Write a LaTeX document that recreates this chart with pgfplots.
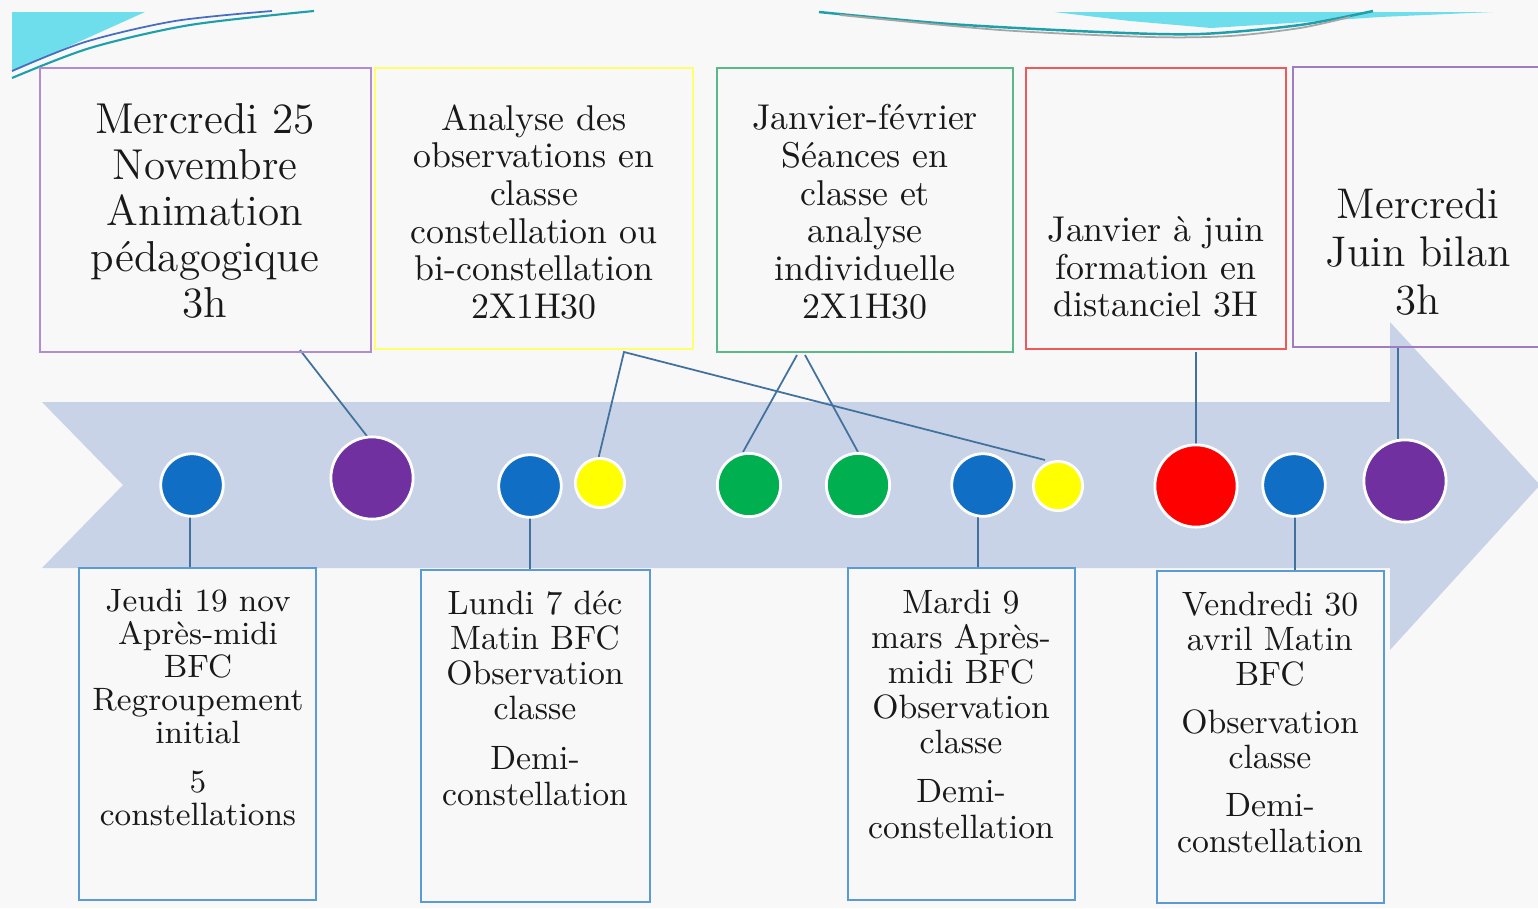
\documentclass[border=0pt]{standalone}
\usepackage{pgfplots}
\pgfplotsset{compat=1.18}
\definecolor{bg}{RGB}{248,248,248}
\definecolor{arrowc}{RGB}{201,211,232}
\definecolor{cblue}{RGB}{16,110,196}
\definecolor{cpurple}{RGB}{112,48,160}
\definecolor{cyellow}{RGB}{255,255,0}
\definecolor{cgreen}{RGB}{0,176,80}
\definecolor{cred}{RGB}{255,0,0}
\definecolor{conn}{RGB}{65,113,156}
\definecolor{bbox}{RGB}{91,155,213}
\definecolor{tpurple}{RGB}{176,140,210}
\definecolor{tyellow}{RGB}{255,255,110}
\definecolor{tgreen}{RGB}{90,185,135}
\definecolor{tred}{RGB}{238,90,90}
\definecolor{tpurple2}{RGB}{160,125,195}
\definecolor{cyanL}{RGB}{110,222,236}
\definecolor{tealL}{RGB}{30,160,170}
\definecolor{blueL}{RGB}{70,110,190}
\definecolor{txt}{RGB}{25,25,25}
\begin{document}
\begin{tikzpicture}
\begin{axis}[
  width=15.38cm, height=9.08cm, scale only axis,
  xmin=0, xmax=1538, ymin=0, ymax=908, y dir=reverse,
  hide axis, clip=true,
]
% background
\addplot[fill=bg, draw=none] coordinates {(0,0) (1538,0) (1538,908) (0,908)} -- cycle;
% top-left decoration
\addplot[fill=cyanL, draw=none] coordinates {(12,12) (145,12) (12,72)} -- cycle;
\addplot[smooth, draw=tealL, line width=0.6pt] coordinates {(12,78) (90,48) (190,25) (314,11)};
\addplot[smooth, draw=blueL, line width=0.5pt] coordinates {(12,71) (85,42) (175,21) (272,11)};
% top-right decoration
\addplot[fill=cyanL, draw=none] coordinates {(1054,12) (1493,12) (1380,17) (1290,23) (1211,28) (1130,21)} -- cycle;
\addplot[smooth, draw=tealL, line width=0.7pt] coordinates {(819,12) (950,24) (1100,32) (1200,34) (1300,25) (1373,11)};
\addplot[smooth, draw=gray!70, line width=0.5pt] coordinates {(840,15) (1000,30) (1150,37) (1230,36) (1300,28) (1350,17)};
% arrow
\addplot[fill=arrowc, draw=none] coordinates {(42,402) (1390,402) (1390,322) (1540,485) (1390,650) (1390,568) (42,568) (123,485)} -- cycle;
% connectors
\addplot[draw=conn, line width=0.5pt] coordinates {(300,350) (370,440)};
\addplot[draw=conn, line width=0.5pt] coordinates {(598,460) (624,352) (1045,460)};
\addplot[draw=conn, line width=0.5pt] coordinates {(743,452) (797,355)};
\addplot[draw=conn, line width=0.5pt] coordinates {(805,355) (858,452)};
\addplot[draw=conn, line width=0.5pt] coordinates {(1196,352) (1196,446)};
\addplot[draw=conn, line width=0.5pt] coordinates {(1398,348) (1398,442)};
\addplot[draw=conn, line width=0.5pt] coordinates {(190,515) (190,568)};
\addplot[draw=conn, line width=0.5pt] coordinates {(530,515) (530,570)};
\addplot[draw=conn, line width=0.5pt] coordinates {(978,515) (978,568)};
\addplot[draw=conn, line width=0.5pt] coordinates {(1295,515) (1295,571)};
% circles
\addplot[only marks, mark=*, mark size=8.9pt, mark options={fill=cblue, draw=white, line width=0.8pt}] coordinates {(192,485) (530,486) (983,485) (1294,485)};
\addplot[only marks, mark=*, mark size=11.7pt, mark options={fill=cpurple, draw=white, line width=0.8pt}] coordinates {(372,478) (1405,481)};
\addplot[only marks, mark=*, mark size=7.0pt, mark options={fill=cyellow, draw=white, line width=0.8pt}] coordinates {(600,483) (1058,486)};
\addplot[only marks, mark=*, mark size=9.0pt, mark options={fill=cgreen, draw=white, line width=0.8pt}] coordinates {(749,485) (858,485)};
\addplot[only marks, mark=*, mark size=11.7pt, mark options={fill=cred, draw=white, line width=0.8pt}] coordinates {(1196,486)};
% top boxes
\addplot[draw=tpurple, line width=0.6pt] coordinates {(40,68) (371,68) (371,352) (40,352)} -- cycle;
\addplot[draw=tyellow, line width=0.6pt] coordinates {(375,68) (693,68) (693,349) (375,349)} -- cycle;
\addplot[draw=tgreen, line width=0.6pt] coordinates {(717,68) (1013,68) (1013,352) (717,352)} -- cycle;
\addplot[draw=tred, line width=0.6pt] coordinates {(1026,68) (1286,68) (1286,349) (1026,349)} -- cycle;
\addplot[draw=tpurple2, line width=0.6pt] coordinates {(1293,67) (1560,67) (1560,347) (1293,347)} -- cycle;
% bottom boxes
\addplot[draw=bbox, line width=0.6pt] coordinates {(79,568) (316,568) (316,900) (79,900)} -- cycle;
\addplot[draw=bbox, line width=0.6pt] coordinates {(421,570) (650,570) (650,902) (421,902)} -- cycle;
\addplot[draw=bbox, line width=0.6pt] coordinates {(848,568) (1075,568) (1075,900) (848,900)} -- cycle;
\addplot[draw=bbox, line width=0.6pt] coordinates {(1157,571) (1384,571) (1384,903) (1157,903)} -- cycle;
% top texts
\node[align=center, anchor=north, inner sep=0pt, text=txt, font=\fontsize{12.3}{13.1}\selectfont] at (axis cs:205,103) {Mercredi 25\\Novembre\\Animation\\pédagogique\\3h};
\node[align=center, anchor=north, inner sep=0pt, text=txt, font=\fontsize{10.2}{10.7}\selectfont] at (axis cs:534,104) {Analyse des\\observations en\\classe\\constellation ou\\bi-constellation\\2X1H30};
\node[align=center, anchor=north, inner sep=0pt, text=txt, font=\fontsize{10.2}{10.7}\selectfont] at (axis cs:865,104) {Janvier-février\\Séances en\\classe et\\analyse\\individuelle\\2X1H30};
\node[align=center, anchor=north, inner sep=0pt, text=txt, font=\fontsize{10.2}{10.7}\selectfont] at (axis cs:1156,216) {Janvier à juin\\formation en\\distanciel 3H};
\node[align=center, anchor=north, inner sep=0pt, text=txt, font=\fontsize{12.2}{13.6}\selectfont] at (axis cs:1418,188) {Mercredi\\Juin bilan\\3h};
% bottom texts
\node[align=center, anchor=north, inner sep=0pt, text=txt, font=\fontsize{9.2}{9.4}\selectfont] at (axis cs:198,588) {Jeudi 19 nov\\Après-midi\\BFC\\Regroupement\\initial\\[4.5pt]5\\constellations};
\node[align=center, anchor=north, inner sep=0pt, text=txt, font=\fontsize{9.6}{10}\selectfont] at (axis cs:535,590) {Lundi 7 déc\\Matin BFC\\Observation\\classe\\[4.3pt]Demi-\\constellation};
\node[align=center, anchor=north, inner sep=0pt, text=txt, font=\fontsize{9.6}{10}\selectfont] at (axis cs:961,589) {Mardi 9\\mars Après-\\midi BFC\\Observation\\classe\\[4pt]Demi-\\constellation};
\node[align=center, anchor=north, inner sep=0pt, text=txt, font=\fontsize{9.6}{10}\selectfont] at (axis cs:1270,591) {Vendredi 30\\avril Matin\\BFC\\[3.7pt]Observation\\classe\\[3.7pt]Demi-\\constellation};
\coordinate (BL) at (axis cs:0,908);
\coordinate (TR) at (axis cs:1538,0);
\end{axis}
\pgfresetboundingbox
\useasboundingbox (BL) rectangle (TR);
\end{tikzpicture}
\end{document}
